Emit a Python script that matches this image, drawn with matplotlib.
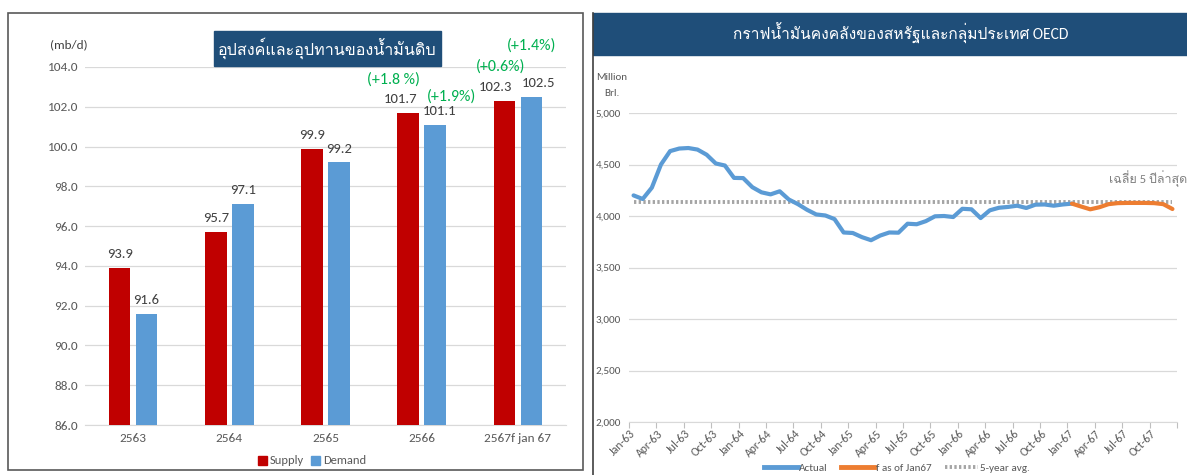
import numpy as np
import matplotlib
matplotlib.use('Agg')
import matplotlib.pyplot as plt
from matplotlib import font_manager as fm
from matplotlib.ft2font import FT2Font
from matplotlib.patches import Rectangle
from matplotlib.lines import Line2D

# ---------------- data ----------------
years = ['2563', '2564', '2565', '2566', '2567f jan 67']
supply = [93.9, 95.7, 99.9, 101.7, 102.3]
demand = [91.6, 97.1, 99.2, 101.1, 102.5]
supply_pct = ['', '', '', '(+1.8 %)', '(+0.6%)']
demand_pct = ['', '', '', '(+1.9%)', '(+1.4%)']
left_yticks = [86, 88, 90, 92, 94, 96, 98, 100, 102, 104]

quarter_labels = ['Jan-63', 'Apr-63', 'Jul-63', 'Oct-63', 'Jan-64', 'Apr-64', 'Jul-64',
                  'Oct-64', 'Jan-65', 'Apr-65', 'Jul-65', 'Oct-65', 'Jan-66', 'Apr-66',
                  'Jul-66', 'Oct-66', 'Jan-67', 'Apr-67', 'Jul-67', 'Oct-67']
# monthly actual stocks Jan-63 .. Jan-67 (million brl)
actual = [4200, 4165, 4275, 4500, 4630, 4655, 4660, 4645, 4595, 4510, 4490, 4370,
          4368, 4280, 4230, 4210, 4240, 4160, 4115, 4060, 4015, 4005, 3970, 3840,
          3835, 3795, 3765, 3810, 3840, 3838, 3925, 3920, 3950, 3997, 4000, 3990,
          4070, 4065, 3980, 4055, 4080, 4088, 4100, 4078, 4110, 4112, 4100, 4112,
          4120]
# forecast Jan-67 .. Dec-67
forecast = [4120, 4092, 4065, 4085, 4115, 4125, 4127, 4127, 4127, 4125, 4115, 4068]
avg5 = [4135] * 60
right_yticks = [2000, 2500, 3000, 3500, 4000, 4500, 5000]

# ---------------- fonts ----------------
avail = {f.name for f in fm.fontManager.ttflist}
base = next((n for n in ['Carlito', 'Liberation Sans Narrow', 'Liberation Sans', 'DejaVu Sans']
             if n in avail), 'DejaVu Sans')


def find_thai():
    seen, names = set(), []
    for f in fm.fontManager.ttflist:
        if f.fname in seen:
            continue
        seen.add(f.fname)
        try:
            cmap = FT2Font(f.fname).get_charmap()
        except Exception:
            continue
        if 0x0E01 in cmap and 0x0E49 in cmap and 0x0E34 in cmap:
            if f.name not in names:
                names.append(f.name)
    return names


thai = find_thai()
plt.rcParams['font.family'] = [base] + thai[:1] + ['DejaVu Sans']

W, H = 1187, 475
fig = plt.figure(figsize=(W / 100, H / 100), dpi=100)


def fx(p):
    return p / W


def fy(p):
    return 1 - p / H


txt = '#595959'
grid = '#D9D9D9'

# ---------------- left panel ----------------
fig.patches.append(Rectangle((fx(8), fy(470)), fx(583 - 8), (470 - 13) / H,
                             transform=fig.transFigure, fill=False,
                             edgecolor='#595959', lw=1.2, zorder=0))

ax1 = fig.add_axes([fx(85), fy(425), (566 - 85) / W, (425 - 67) / H])
x = np.arange(len(years))
off, bw = 0.14, 0.225
ax1.bar(x - off, supply, bw, color='#C00000', zorder=3)
ax1.bar(x + off, demand, bw, color='#5B9BD5', zorder=3)
ax1.set_ylim(86, 104)
ax1.set_xlim(-0.5, len(years) - 0.5)
ax1.set_yticks(left_yticks)
ax1.set_yticklabels([f'{v:.1f}' for v in left_yticks])
ax1.set_xticks(x)
ax1.set_xticklabels(years)
ax1.yaxis.grid(True, color=grid, lw=0.9)
ax1.set_axisbelow(True)
for s in ['top', 'right', 'left']:
    ax1.spines[s].set_visible(False)
ax1.spines['bottom'].set_color(grid)
ax1.tick_params(axis='y', length=0, pad=5, labelsize=9.5, labelcolor=txt)
ax1.tick_params(axis='x', length=0, pad=6, labelsize=9.5, labelcolor=txt)

sup_dx = [0, 0, 0, -8, -9]
dem_dx = [0, 0, 0, 4, 7]
for i in range(len(years)):
    ax1.annotate(f'{supply[i]:.1f}', (x[i] - off, supply[i]), xytext=(sup_dx[i] * 0.72, 10),
                 textcoords='offset points', ha='center', va='center', fontsize=10.5, color='#404040')
    ax1.annotate(f'{demand[i]:.1f}', (x[i] + off, demand[i]), xytext=(dem_dx[i] * 0.72, 10),
                 textcoords='offset points', ha='center', va='center', fontsize=10.5, color='#404040')
pct_sup_off = [(0, 0), (0, 0), (0, 0), (-15, 33), (-4, 34)]
pct_dem_off = [(0, 0), (0, 0), (0, 0), (16, 28), (0, 51)]
for i in range(len(years)):
    if supply_pct[i]:
        dx, dy = pct_sup_off[i]
        ax1.annotate(supply_pct[i], (x[i] - off, supply[i]), xytext=(dx * 0.72, dy * 0.72),
                     textcoords='offset points', ha='center', va='center', fontsize=11.5,
                     color='#00B050', annotation_clip=False)
    if demand_pct[i]:
        dx, dy = pct_dem_off[i]
        ax1.annotate(demand_pct[i], (x[i] + off, demand[i]), xytext=(dx * 0.72, dy * 0.72),
                     textcoords='offset points', ha='center', va='center', fontsize=11.5,
                     color='#00B050', annotation_clip=False)

fig.text(fx(69), fy(45), '(mb/d)', ha='center', va='center', fontsize=9.5, color='#404040')
fig.patches.append(Rectangle((fx(214), fy(66)), fx(441 - 214), (66 - 31) / H,
                             transform=fig.transFigure, color='#1F4E79', zorder=1))
fig.text(fx(327.5), fy(48.5), 'อุปสงค์และอุปทานของน้ำมันดิบ', ha='center', va='center',
         fontsize=11.6, color='white', zorder=2)

lh = [Rectangle((0, 0), 1, 1, color='#C00000'), Rectangle((0, 0), 1, 1, color='#5B9BD5')]
fig.legend(lh, ['Supply', 'Demand'], loc='center', bbox_to_anchor=(fx(312), fy(461)),
           ncol=2, frameon=False, fontsize=9, handlelength=0.7, handleheight=0.7,
           handletextpad=0.25, columnspacing=0.6, labelcolor=txt, borderpad=0)

# ---------------- right panel ----------------
fig.add_artist(Line2D([fx(593), fx(593)], [fy(13), fy(475)], transform=fig.transFigure,
                      color='#404040', lw=1.2))
fig.patches.append(Rectangle((fx(593), fy(55)), fx(W - 593), (55 - 13) / H,
                             transform=fig.transFigure, color='#1F4E79', zorder=1))
fig.text(fx(901), fy(33), 'กราฟน้ำมันคงคลังของสหรัฐและกลุ่มประเทศ OECD', ha='center',
         va='center', fontsize=11.2, color='white', zorder=2)

ax2 = fig.add_axes([fx(629), fy(422), (1177 - 629) / W, (422 - 113) / H])
m_all = np.arange(60)
m_act = m_all[:len(actual)]
m_fc = m_all[len(actual) - 1:len(actual) - 1 + len(forecast)]
ax2.plot(m_all, avg5, color='#A5A5A5', lw=2.8, linestyle=(0, (0.6, 0.6)),
         solid_capstyle='butt', dash_capstyle='butt', zorder=2)
ax2.plot(m_act, actual, color='#5B9BD5', lw=3.0, solid_capstyle='round', zorder=3)
ax2.plot(m_fc, forecast, color='#ED7D31', lw=3.0, solid_capstyle='round', zorder=3)
ax2.set_xlim(-0.5, 59.5)
ax2.set_ylim(2000, 5000)
ax2.set_yticks(right_yticks)
ax2.set_yticklabels([f'{v:,}' for v in right_yticks])
for lab in ax2.get_yticklabels():
    lab.set_ha('left')
ax2.tick_params(axis='y', length=0, pad=(629 - 596) * 0.72, labelsize=8, labelcolor=txt)
ax2.yaxis.grid(True, color=grid, lw=0.9)
ax2.set_axisbelow(True)
ax2.set_xticks(np.arange(-0.5, 60, 3))
ax2.set_xticklabels([])
ax2.set_xticks(np.arange(0, 60, 3), minor=True)
ax2.set_xticklabels(quarter_labels, minor=True, rotation=45, ha='right', va='center',
                    rotation_mode='anchor')
ax2.tick_params(axis='x', which='major', length=4, color='#BFBFBF', width=0.8)
ax2.tick_params(axis='x', which='minor', length=0, pad=7, labelsize=8.5, labelcolor=txt)
for s in ['top', 'right', 'left']:
    ax2.spines[s].set_visible(False)
ax2.spines['bottom'].set_color(grid)

fig.text(fx(612), fy(77), 'Million', ha='center', va='center', fontsize=8, color=txt)
fig.text(fx(612), fy(93), 'Brl.', ha='center', va='center', fontsize=8, color=txt)
fig.text(fx(1109), fy(179), 'เฉลี่ย 5 ปีล่าสุด', ha='left', va='center', fontsize=9,
         color='#808080')

rh = [Line2D([], [], color='#5B9BD5', lw=3.5),
      Line2D([], [], color='#ED7D31', lw=3.5),
      Line2D([], [], color='#A5A5A5', lw=2.8, linestyle=(0, (0.6, 0.6)))]
fig.legend(rh, ['Actual', 'f as of Jan67', '5-year avg.'], loc='center',
           bbox_to_anchor=(fx(897), fy(468)), ncol=3, frameon=False, fontsize=8,
           handlelength=3.0, handletextpad=0.15, columnspacing=1.2, labelcolor=txt,
           borderpad=0)

fig.savefig('out.png', dpi=100)
